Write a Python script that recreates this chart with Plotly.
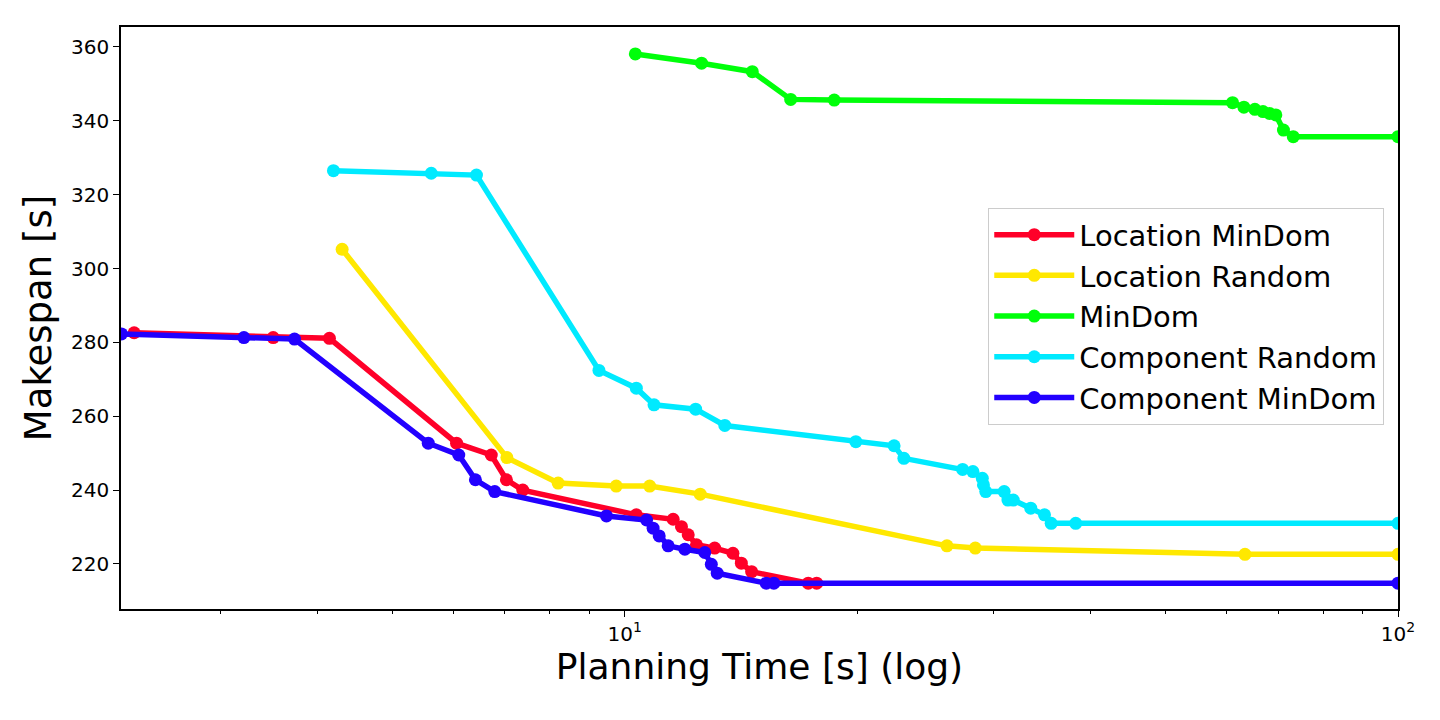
import plotly.graph_objects as go

series_names = ["Location MinDom", "Location Random", "MinDom", "Component Random", "Component MinDom"]
colors = ["#ff0029", "#ffe800", "#00ff0a", "#00eaff", "#2200ff"]

loc_mindom_x = [2.32, 3.51, 4.15, 6.06, 6.72, 7.03, 7.38, 10.35, 11.55, 11.84, 12.08, 12.38, 13.07, 13.80, 14.15, 14.59, 17.27, 17.71]
loc_mindom_y = [282.6, 281.3, 281.1, 252.7, 249.5, 242.8, 240.0, 233.3, 232.1, 230.1, 227.9, 225.2, 224.3, 222.9, 220.2, 217.9, 214.8, 214.8]

loc_random_x = [4.31, 7.04, 8.20, 9.75, 10.77, 12.52, 26.1, 28.4, 63.4, 100]
loc_random_y = [305.2, 248.8, 241.9, 241.1, 241.1, 238.9, 224.9, 224.3, 222.6, 222.6]

mindom_x = [10.32, 12.57, 14.62, 16.39, 18.66, 61.1, 63.2, 65.3, 66.9, 68.2, 69.5, 71.1, 73.2, 100]
mindom_y = [358.1, 355.6, 353.3, 345.8, 345.6, 344.9, 343.7, 343.1, 342.5, 342.0, 341.6, 337.5, 335.7, 335.7]

comp_random_x = [4.20, 5.62, 6.43, 9.26, 10.35, 10.91, 12.35, 13.47, 19.9, 22.3, 22.96, 27.35, 28.2, 29.0, 29.1, 29.3, 30.95, 31.3, 31.8, 33.5, 34.9, 35.6, 38.3, 100]
comp_random_y = [326.5, 325.8, 325.3, 272.4, 267.6, 263.1, 261.9, 257.5, 253.1, 252.0, 248.6, 245.6, 245.0, 243.2, 241.4, 239.6, 239.6, 237.3, 237.3, 235.1, 233.3, 231.0, 231.0, 231.0]

comp_mindom_x = [2.234, 3.217, 3.74, 5.57, 6.10, 6.41, 6.79, 9.47, 10.67, 10.88, 11.08, 11.38, 11.96, 12.69, 12.94, 13.17, 15.24, 15.59, 100]
comp_mindom_y = [282.3, 281.3, 280.9, 252.7, 249.5, 242.8, 239.6, 233.0, 231.9, 229.7, 227.6, 224.9, 224.0, 223.1, 219.9, 217.5, 214.8, 214.8, 214.8]

xs = [loc_mindom_x, loc_random_x, mindom_x, comp_random_x, comp_mindom_x]
ys = [loc_mindom_y, loc_random_y, mindom_y, comp_random_y, comp_mindom_y]

y_ticks = [220, 240, 260, 280, 300, 320, 340, 360]
x_major = [10, 100]
x_minor = [3, 4, 5, 6, 7, 8, 9, 20, 30, 40, 50, 60, 70, 80, 90]

fig = go.Figure()
for name, c, x, y in zip(series_names, colors, xs, ys):
    fig.add_trace(go.Scatter(x=x, y=y, name=name, mode="lines+markers",
                             line=dict(color=c, width=5.5),
                             marker=dict(color=c, size=13),
                             cliponaxis=True))

axis_common = dict(showline=True, linecolor="black", linewidth=1.5, mirror=True,
                   ticks="outside", tickcolor="black", ticklen=6, tickwidth=1.3,
                   showgrid=False, zeroline=False,
                   tickfont=dict(family="DejaVu Sans", size=20, color="black"))

fig.update_xaxes(type="log", range=[0.3485, 2.0], tickmode="array", tickvals=x_major,
                 ticktext=["10<sup>1</sup>", "10<sup>2</sup>"],
                 minor=dict(ticks="outside", tickvals=x_minor, ticklen=3.5, tickcolor="black", tickwidth=1),
                 title=dict(text="Planning Time [s] (log)", font=dict(family="DejaVu Sans", size=36, color="black"), standoff=8),
                 **axis_common)
fig.update_yaxes(range=[207.8, 365.4], tickmode="array", tickvals=y_ticks,
                 title=dict(text="Makespan [s]", font=dict(family="DejaVu Sans", size=37, color="black"), standoff=8),
                 **axis_common)

fig.update_layout(
    width=1440, height=720,
    margin=dict(l=121, r=42, t=27, b=111),
    plot_bgcolor="white", paper_bgcolor="white",
    legend=dict(x=0.989, y=0.689, xanchor="right", yanchor="top",
                bgcolor="rgba(255,255,255,0.85)", bordercolor="#cccccc", borderwidth=1.3,
                font=dict(family="DejaVu Sans", size=29, color="black"),
                itemwidth=80, tracegroupgap=0),
    showlegend=True,
)

fig.write_html("out.html")
